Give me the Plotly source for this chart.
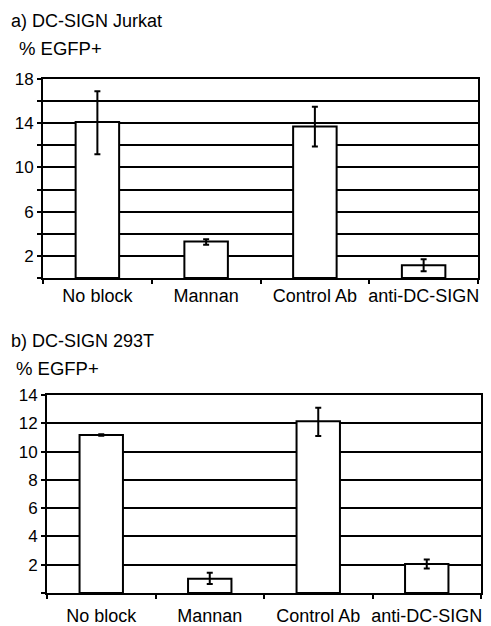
import plotly.graph_objects as go

categories = ["No block", "Mannan", "Control Ab", "anti-DC-SIGN"]

# Panel a) DC-SIGN Jurkat
jurkat_vals = [14.1, 3.3, 13.7, 1.15]
jurkat_hi = [16.9, 3.5, 15.5, 1.7]
jurkat_lo = [11.2, 3.0, 11.9, 0.6]

# Panel b) DC-SIGN 293T
t293_vals = [11.17, 1.0, 12.15, 2.05]
t293_hi = [11.22, 1.43, 13.1, 2.37]
t293_lo = [11.12, 0.63, 11.1, 1.74]

jurkat_ticks = [0, 2, 4, 6, 8, 10, 12, 14, 16, 18]
jurkat_ticktext = ["", "2", "", "6", "", "10", "", "14", "", "18"]
t293_ticks = [0, 2, 4, 6, 8, 10, 12, 14]
t293_ticktext = ["", "2", "4", "6", "8", "10", "12", "14"]

FONT = "Liberation Sans, Arial, sans-serif"
W, H = 491, 626

fig = go.Figure()


def add_panel(vals, hi, lo, xa, ya):
    fig.add_trace(go.Bar(
        x=categories, y=vals, xaxis=xa, yaxis=ya, width=0.4,
        marker=dict(color="white", line=dict(color="black", width=2)),
        error_y=dict(type="data", symmetric=False,
                     array=[h - v for h, v in zip(hi, vals)],
                     arrayminus=[v - l for v, l in zip(vals, lo)],
                     color="black", thickness=2, width=3),
        showlegend=False,
    ))


add_panel(jurkat_vals, jurkat_hi, jurkat_lo, "x", "y")
add_panel(t293_vals, t293_hi, t293_lo, "x2", "y2")

axis_common = dict(showline=True, linecolor="black", linewidth=2, mirror=True,
                   ticks="outside", tickcolor="black", tickwidth=1.5, ticklen=4,
                   automargin=False)
yfont = dict(family=FONT, size=17, color="black")
xfont = dict(family=FONT, size=18, color="black")

fig.update_layout(
    width=W, height=H,
    margin=dict(l=0, r=0, t=0, b=0, autoexpand=False),
    paper_bgcolor="white", plot_bgcolor="white",
    xaxis=dict(domain=[43 / W, 478 / W], anchor="y", tickson="boundaries",
               tickangle=0, tickfont=xfont, showgrid=False, **axis_common),
    yaxis=dict(domain=[1 - 278 / H, 1 - 79 / H], anchor="x", range=[0, 18],
               tickvals=jurkat_ticks, ticktext=jurkat_ticktext, tickfont=yfont,
               showgrid=True, gridcolor="black", gridwidth=2, zeroline=False,
               **axis_common),
    xaxis2=dict(domain=[47 / W, 481 / W], anchor="y2", tickson="boundaries",
                tickangle=0, tickfont=xfont, showgrid=False, ticklabelstandoff=5,
                **axis_common),
    yaxis2=dict(domain=[1 - 593 / H, 1 - 395 / H], anchor="x2", range=[0, 14],
                tickvals=t293_ticks, ticktext=t293_ticktext, tickfont=yfont,
                showgrid=True, gridcolor="black", gridwidth=2, zeroline=False,
                **axis_common),
)

annots = [
    ("a) DC-SIGN Jurkat", 9, 21, 18),
    ("% EGFP+", 17, 48.5, 18.5),
    ("b) DC-SIGN 293T", 9, 341, 18),
    ("% EGFP+", 14, 368, 18.5),
]
for text, px, py, fs in annots:
    fig.add_annotation(text=text, xref="paper", yref="paper",
                       x=px / W, y=1 - py / H, xanchor="left", yanchor="middle",
                       showarrow=False,
                       font=dict(family=FONT, size=fs, color="black"))

fig.write_html("out.html")
